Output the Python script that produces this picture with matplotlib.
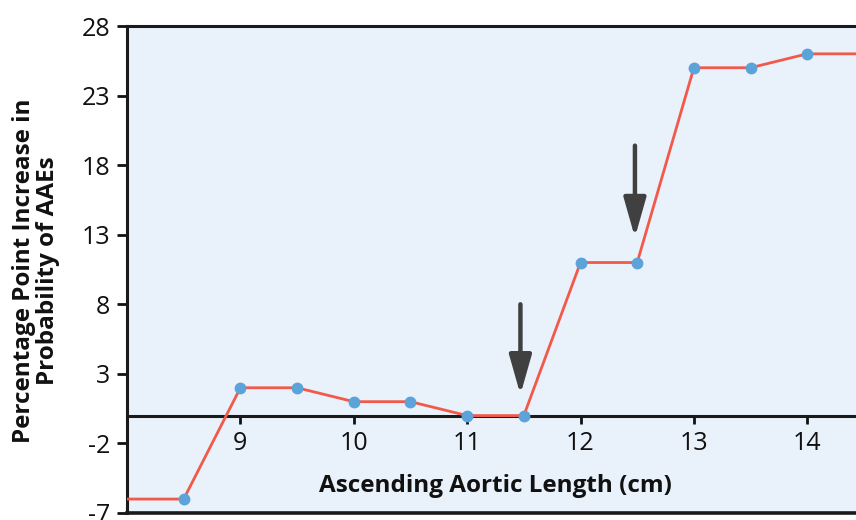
import matplotlib
matplotlib.use("Agg")
import matplotlib.pyplot as plt

plt.rcParams['font.family'] = ['Open Sans', 'DejaVu Sans']

# datos
longitud = [8.0, 8.5, 9.0, 9.5, 10.0, 10.5, 11.0, 11.5, 12.0, 12.5, 13.0, 13.5, 14.0, 14.45]
aumento = [-6, -6, 2, 2, 1, 1, 0, 0, 11, 11, 25, 25, 26, 26]
# puntos marcados (sin los extremos que salen del grafico)
marcas_x = longitud[1:-1]
marcas_y = aumento[1:-1]

flechas_x = [11.47, 12.48]
flechas_inicio = [8.0, 19.4]
flechas_fin = [1.5, 12.8]

yticks = [-7, -2, 3, 8, 13, 18, 23, 28]
xticks = [9, 10, 11, 12, 13, 14]

fig = plt.figure(figsize=(8.56, 5.2), dpi=100)
ax = fig.add_axes([0.1484, 0.0135, 0.8516, 0.9365])
ax.set_facecolor('#e9f1fa')

ax.plot(longitud, aumento, color='#f15a4a', lw=2.0, zorder=3)
ax.plot(marcas_x, marcas_y, 'o', color='#5ba3d9', ms=7.5, zorder=4)

for x, y0, y1 in zip(flechas_x, flechas_inicio, flechas_fin):
    ax.annotate('', xy=(x, y1), xytext=(x, y0),
                arrowprops=dict(arrowstyle='-|>,head_length=1.2,head_width=0.34',
                                color='#404040', lw=3.2, mutation_scale=20,
                                shrinkA=0, shrinkB=0))

ax.set_xlim(8.0, 14.43)
ax.set_ylim(-7, 28)

# eje x sobre el cero, y el marco de abajo aparte
ax.spines['bottom'].set_position(('data', 0))
ax.spines['right'].set_visible(False)
for s in ['bottom', 'top', 'left']:
    ax.spines[s].set_linewidth(2.2)
    ax.spines[s].set_color('#1a1a1a')
ax.plot([0, 1], [0, 0], transform=ax.transAxes, color='#1a1a1a', lw=2.6, clip_on=False, zorder=5)

ax.set_xticks(xticks)
ax.set_xticklabels([str(v) for v in xticks])
ax.set_yticks(yticks)
ax.set_yticklabels([str(v) for v in yticks])
ax.tick_params(axis='x', length=6, width=2, direction='out', labelsize=18, pad=5, colors='#111111')
ax.tick_params(axis='y', length=7, width=2, direction='out', labelsize=18, pad=5, colors='#111111')

ax.text(0.506, 0.055, 'Ascending Aortic Length (cm)', transform=ax.transAxes,
        ha='center', va='center', fontsize=17.5, fontweight='bold', color='#111111')

fig.text(0.042, 0.48, 'Percentage Point Increase in\nProbability of AAEs', rotation=90,
         ha='center', va='center', fontsize=17.5, fontweight='bold', color='#111111',
         linespacing=1.0)

fig.savefig('out.png', dpi=100)
